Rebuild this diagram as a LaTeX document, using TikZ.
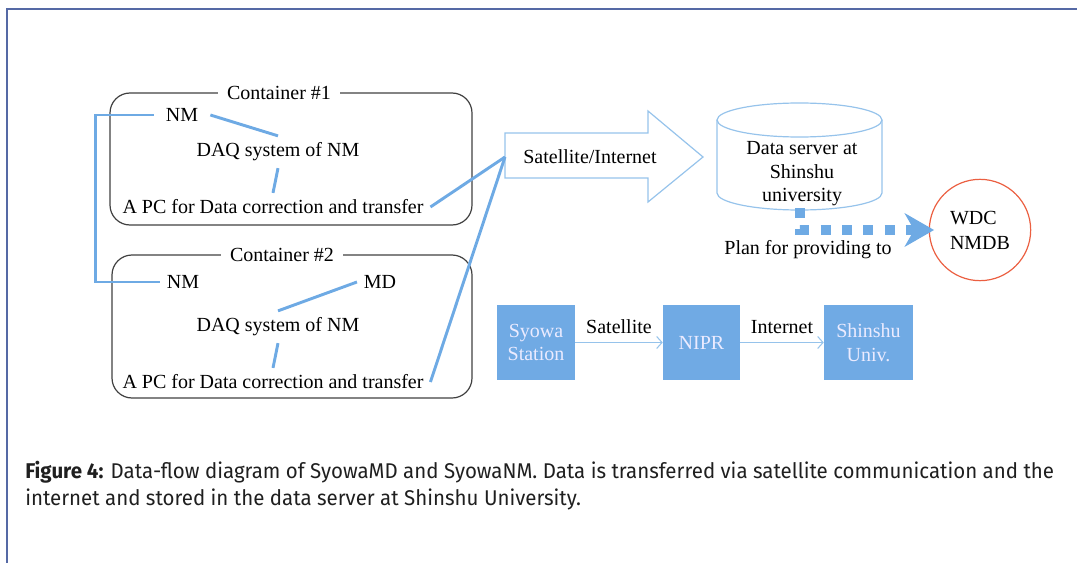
\documentclass[tikz,border=0pt]{standalone}
\usepackage{fontspec}
\setmainfont{Liberation Serif}
\newfontfamily\capfont[FakeStretch=0.96]{Fira Sans}
\usetikzlibrary{arrows.meta}

\definecolor{linkblue}{RGB}{110,170,228}
\definecolor{edgeblue}{RGB}{150,195,235}
\definecolor{boxblue}{RGB}{112,170,228}
\definecolor{wdcred}{RGB}{235,95,65}
\definecolor{framecol}{RGB}{85,105,165}

\begin{document}
\begin{tikzpicture}[x=0.75pt, y=-0.75pt, font=\fontsize{15}{17.6}\selectfont,
    txt/.style = {inner sep=5pt},
    link/.style = {draw=linkblue, line width=2.2pt},
    container/.style = {draw=black!75, line width=0.9pt, rounded corners=15pt},
    ctitle/.style = {fill=white, inner xsep=7pt, inner ysep=2pt},
    station/.style = {fill=boxblue, text=white!92!blue, minimum height=56pt, align=center},
    hop/.style = {draw=edgeblue, line width=0.8pt, -{Straight Barb[length=4pt, width=9pt]}}]

        \useasboundingbox (0,0) rectangle (1077,563);
        \draw[framecol, line width=1.5pt] (7,563) -- (7,9) -- (1077,9);

        \draw[container] (110,93) rectangle (472,225);
        \node[ctitle] (contA) at (279,93) {Container \#1};
        \node[txt, inner xsep=9pt] (nmA) at (182,115) {NM};
        \node[txt] (daqA) at (278,152) {DAQ system of NM};
        \node[txt] (pcA) at (273,207) {A PC for Data correction and transfer};

        \draw[container] (112,255) rectangle (472,398);
        \node[ctitle] (contB) at (282,255) {Container \#2};
        \node[txt] (nmB) at (183,282) {NM};
        \node[txt] (mdB) at (380,282) {MD};
        \node[txt] (daqB) at (278,327) {DAQ system of NM};
        \node[txt] (pcB) at (273,382) {A PC for Data correction and transfer};

        \draw[edgeblue, line width=0.9pt] (505,133) -- (648,133) -- (648,111) -- (703,157)
            -- (648,202) -- (648,178) -- (505,178) -- cycle;
        \coordinate (satin) at (505,157);
        \node (satnet) at (590,157) {Satellite/Internet};

        \draw[edgeblue, line width=0.9pt] (717,120) -- (717,193)
            arc[start angle=180, end angle=0, x radius=82.5, y radius=17] -- (882,120);
        \draw[edgeblue, line width=0.9pt] (799.5,120) ellipse[x radius=82.5, y radius=17];
        \node[align=center] (server) at (802,174) {Data server at\\Shinshu\\university};
        \coordinate (srvbot) at (800,208);

        \node[circle, draw=wdcred, line width=0.9pt, minimum size=76pt, inner sep=1pt, align=left,
              font=\fontsize{15}{18.8}\selectfont] (wdc) at (980,230) {WDC\\NMDB};
        \node (plan) at (808,250) {Plan for providing to};

        \draw[link] (nmA.east) -- (daqA.north);
        \draw[link] (daqA.south) -- (pcA.north);
        \draw[link] (pcA.east) -- (satin);
        \draw[link] (mdB.west) -- (daqB.north);
        \draw[link] (daqB.south) -- (pcB.north);
        \draw[link] (pcB.east) -- (satin);
        \draw[link] (nmA.west) -- ++(-58,0) |- (nmB.west);

        \draw[linkblue, line width=7.5pt, dash pattern=on 7.5pt off 8.5pt,
              -{Stealth[length=22pt, width=25pt, inset=7pt]}, shorten >=-4pt]
            (srvbot) |- (wdc.west);

        \node[station, minimum width=58.5pt] (syowa) at (536,342.5) {Syowa\\Station};
        \node[station, minimum width=57.75pt] (nipr) at (701.5,342.5) {NIPR};
        \node[station, minimum width=66.75pt] (shinshu) at (868.5,342.5) {Shinshu\\Univ.};
        \draw[hop] (syowa) -- node[above=3pt, text=black] {Satellite} (nipr);
        \draw[hop] (nipr) -- node[above=3pt, text=black] {Internet} (shinshu);

        \node[anchor=west, inner sep=0pt, text=black!88, font=\capfont\fontsize{16}{18}\selectfont]
            (capA) at (25,472) {\textbf{Figure 4:} Data-flow diagram of SyowaMD and SyowaNM. Data is transferred via satellite communication and the};
        \node[anchor=west, inner sep=0pt, text=black!88, font=\capfont\fontsize{16}{18}\selectfont]
            (capB) at (25,499) {internet and stored in the data server at Shinshu University.};

    \end{tikzpicture}
\end{document}
